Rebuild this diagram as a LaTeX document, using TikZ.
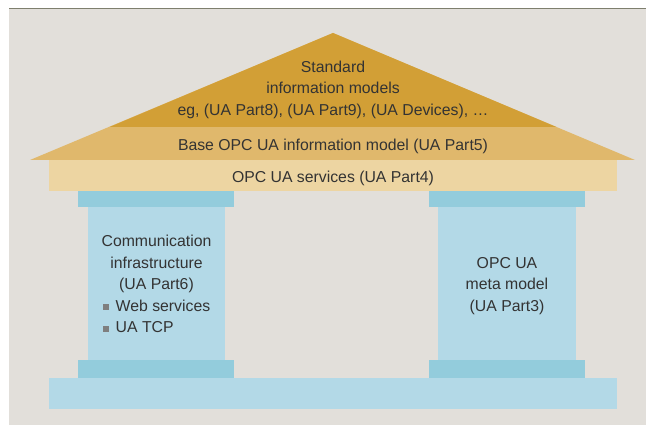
\documentclass[tikz,border=0pt]{standalone}
\usepackage{fontspec}
\setmainfont{Liberation Sans}
\definecolor{bg}{HTML}{E2DFDA}
\definecolor{topline}{HTML}{7E7F6E}
\definecolor{roofdark}{HTML}{D29F36}
\definecolor{roofmid}{HTML}{E0B86C}
\definecolor{services}{HTML}{EDD5A2}
\definecolor{capc}{HTML}{93CCDC}
\definecolor{shaft}{HTML}{B3D9E7}
\definecolor{txt}{HTML}{333333}
\definecolor{bulletc}{HTML}{7F7F7F}
\begin{document}
\begin{tikzpicture}[x=1pt,y=-1pt,
  lbl/.style={text=txt, font=\fontsize{15.8}{19}\selectfont, inner sep=0pt, anchor=base},
  lbll/.style={lbl, anchor=base west}]
\useasboundingbox (0,0) rectangle (646,425);
% background
\fill[bg] (9,8) rectangle (646,425);
\draw[topline, line width=1.3pt] (9,8.6) -- (646,8.6);
% roof
\fill[roofmid] (333,33) -- (30,160) -- (635,160) -- cycle;
\fill[roofdark] (333,33) -- (109.6,127) -- (556.4,127) -- cycle;
% services bar
\fill[services] (49,160) rectangle (617,191);
% columns
\fill[capc] (78,191) rectangle (234,207);
\fill[capc] (429,191) rectangle (585,207);
\fill[shaft] (88,207) rectangle (225,360);
\fill[shaft] (438,207) rectangle (576,360);
\fill[capc] (78,360) rectangle (234,378);
\fill[capc] (429,360) rectangle (585,378);
% base
\fill[shaft] (49,378) rectangle (617,409);
% roof texts
\node[lbl] (r1) at (333,72.5) {Standard};
\node[lbl] (r2) at (333,94) {information models};
\node[lbl] (r3) at (333,115.5) {eg, (UA Part8), (UA Part9), (UA Devices), \dots};
\node[lbl] (r4) at (333,151) {Base OPC UA information model (UA Part5)};
\node[lbl] (r5) at (333,182.5) {OPC UA services (UA Part4)};
% left column texts
\node[lbl] (l1) at (156.5,247) {Communication};
\node[lbl] (l2) at (156.5,268.5) {infrastructure};
\node[lbl] (l3) at (156.5,290) {(UA Part6)};
\fill[bulletc] (103,304) rectangle (109,310);
\node[lbll] (l4) at (115.5,311) {Web services};
\fill[bulletc] (103,325.5) rectangle (109,331.5);
\node[lbll] (l5) at (115.5,332.5) {UA TCP};
% right column texts
\node[lbl] (m1) at (507,268.5) {OPC UA};
\node[lbl] (m2) at (507,290) {meta model};
\node[lbl] (m3) at (507,311) {(UA Part3)};
\end{tikzpicture}
\end{document}
